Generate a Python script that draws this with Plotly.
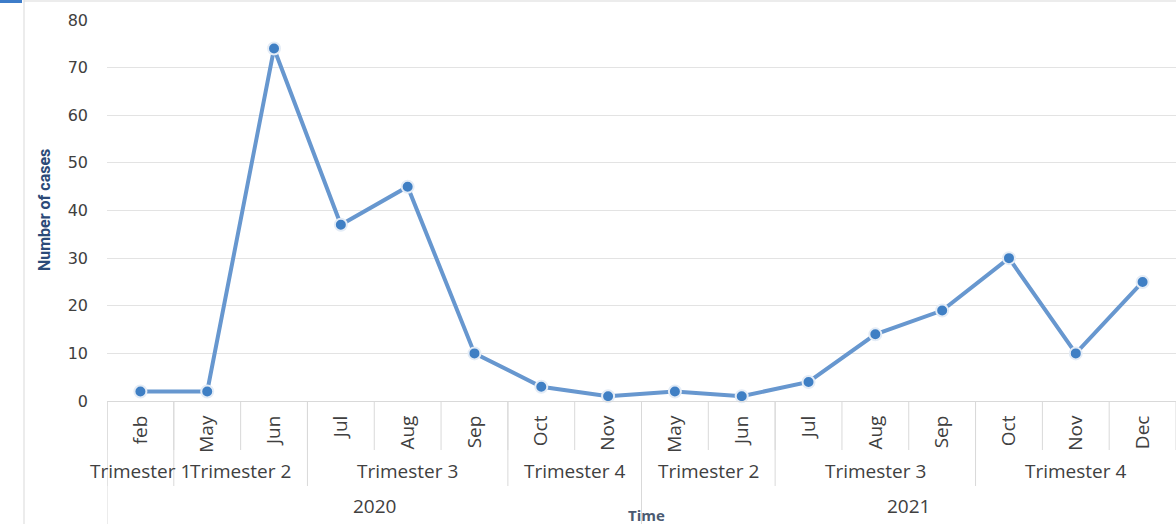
import plotly.graph_objects as go

months = ["feb", "May", "Jun", "Jul", "Aug", "Sep", "Oct", "Nov",
          "May", "Jun", "Jul", "Aug", "Sep", "Oct", "Nov", "Dec"]
cases = [2, 2, 74, 37, 45, 10, 3, 1, 2, 1, 4, 14, 19, 30, 10, 25]
trimester_labels = ["Trimester 1", "Trimester 2", "Trimester 3", "Trimester 4",
                    "Trimester 2", "Trimester 3", "Trimester 4"]
trimester_sizes = [1, 2, 3, 2, 2, 3, 3]
year_labels = ["2020", "2021"]
year_sizes = [8, 8]
y_ticks = [0, 10, 20, 30, 40, 50, 60, 70, 80]

x = list(range(len(months)))

fig = go.Figure()
fig.add_trace(go.Scatter(
    x=x, y=cases, mode="lines+markers",
    line=dict(color="#6797cf", width=4),
    marker=dict(size=12, color="#3f7fc4", line=dict(color="#e4ecf6", width=2)),
    cliponaxis=False, showlegend=False, hoverinfo="skip",
))

# pixel helpers (plot area: x 107..1176, y 20..401)
def py(p):
    return (401 - p) / 381.0

def px(p):
    return (p - 107) / 1069.0

shapes = []
annotations = []
sep_color = "#d9d9d9"
label_font = "Open Sans, Lato, sans-serif"

# month separators
for i in range(len(months) + 1):
    b = i - 0.5
    shapes.append(dict(type="line", xref="x", yref="paper", x0=b, x1=b,
                       y0=0, y1=py(450), line=dict(color=sep_color, width=1)))

# trimester groups
start = 0
for lab, n in zip(trimester_labels, trimester_sizes):
    b = start - 0.5
    shapes.append(dict(type="line", xref="x", yref="paper", x0=b, x1=b,
                       y0=0, y1=py(486), line=dict(color=sep_color, width=1)))
    annotations.append(dict(text=lab, xref="x", yref="paper",
                            x=start + (n - 1) / 2.0, y=py(471), showarrow=False,
                            font=dict(family=label_font, size=19, color="#404040"),
                            xanchor="center", yanchor="middle"))
    start += n

# year groups
start = 0
for lab, n in zip(year_labels, year_sizes):
    b = start - 0.5
    shapes.append(dict(type="line", xref="x", yref="paper", x0=b, x1=b,
                       y0=0, y1=py(524), line=dict(color=sep_color, width=1)))
    annotations.append(dict(text=lab, xref="x", yref="paper",
                            x=start + (n - 1) / 2.0, y=py(506), showarrow=False,
                            font=dict(family=label_font, size=19, color="#404040"),
                            xanchor="center", yanchor="middle"))
    start += n

# outer chart border and blue tab
shapes.append(dict(type="line", xref="paper", yref="paper", x0=px(24), x1=px(1176),
                   y0=py(1), y1=py(1), line=dict(color="#d9d9d9", width=1)))
shapes.append(dict(type="line", xref="paper", yref="paper", x0=px(24), x1=px(24),
                   y0=py(0), y1=py(524), line=dict(color="#d9d9d9", width=1)))
shapes.append(dict(type="rect", xref="paper", yref="paper", x0=px(0), x1=px(22),
                   y0=py(3), y1=py(0), line=dict(width=0), fillcolor="#3d7cc9"))

# axis titles
annotations.append(dict(text="<b>Number of cases</b>", xref="paper", yref="paper",
                        x=px(44), y=py(210), textangle=-90, showarrow=False,
                        font=dict(family="Liberation Sans Narrow, Roboto, sans-serif", size=16, color="#2b4a78"),
                        xanchor="center", yanchor="middle"))
annotations.append(dict(text="<b>Time</b>", xref="paper", yref="paper",
                        x=px(646), y=py(515), showarrow=False,
                        font=dict(family=label_font, size=15, color="#4a5a72"),
                        xanchor="center", yanchor="middle"))

fig.update_layout(
    width=1176, height=524,
    margin=dict(l=107, r=0, t=20, b=123),
    paper_bgcolor="white", plot_bgcolor="white",
    shapes=shapes, annotations=annotations,
    xaxis=dict(range=[-0.5, len(months) - 0.5], tickmode="array", tickvals=x, ticktext=months,
               tickangle=-90, showgrid=False, zeroline=False, showline=True,
               linecolor="#d9d9d9", linewidth=1, ticks="", ticklabelstandoff=6,
               tickfont=dict(family=label_font, size=19, color="#404040")),
    yaxis=dict(range=[0, 80], tickmode="array", tickvals=y_ticks, showgrid=True,
               gridcolor="#e3e3e3", gridwidth=1, zeroline=False, showline=False, ticks="",
               ticklabelstandoff=18,
               tickfont=dict(family="DejaVu Sans, sans-serif", size=16, color="#404040")),
)

fig.write_html("out.html", config={"displayModeBar": False},
               post_script="document.body.style.margin='0';")
